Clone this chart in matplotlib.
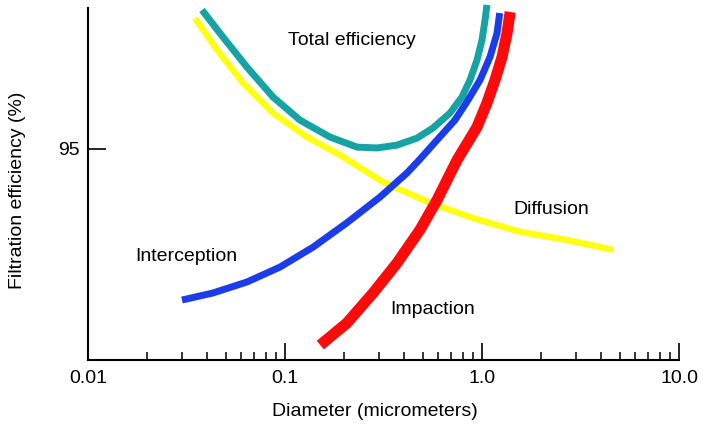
import matplotlib
matplotlib.use("Agg")
import matplotlib.pyplot as plt
from matplotlib.ticker import LogLocator, NullFormatter

plt.rcParams['font.family'] = ['Liberation Sans', 'DejaVu Sans']

# values (diameter in micrometers, efficiency in %)
total_d = [0.0379, 0.0484, 0.0641, 0.0869, 0.119, 0.169, 0.232, 0.293, 0.370, 0.468,
           0.564, 0.688, 0.791, 0.869, 0.943, 1.00, 1.036, 1.06]
total_e = [99.93, 98.97, 97.90, 96.84, 96.02, 95.42, 95.06, 95.03, 95.13, 95.38,
           95.74, 96.27, 96.84, 97.44, 98.15, 98.86, 99.57, 100.11]

diff_d = [0.0349, 0.0452, 0.0612, 0.0869, 0.129, 0.190, 0.314, 0.545, 0.900, 1.56, 2.70, 4.62]
diff_e = [99.64, 98.51, 97.34, 96.27, 95.42, 94.78, 93.82, 93.08, 92.54, 92.05, 91.76, 91.41]

inter_d = [0.0300, 0.0431, 0.0641, 0.0943, 0.139, 0.206, 0.304, 0.416, 0.490, 0.591,
           0.729, 0.849, 0.977, 1.098, 1.192, 1.23]
inter_e = [89.63, 89.88, 90.27, 90.80, 91.51, 92.37, 93.29, 94.14, 94.67, 95.31,
           96.02, 96.73, 97.44, 98.26, 99.11, 99.82]

imp_d = [0.151, 0.206, 0.280, 0.370, 0.484, 0.591, 0.747, 0.943, 1.06, 1.164, 1.264, 1.340, 1.39]
imp_e = [88.03, 88.81, 89.88, 90.94, 92.12, 93.18, 94.60, 95.77, 96.63, 97.44, 98.26, 99.11, 99.86]

xticks = [0.01, 0.1, 1.0, 10.0]
xtick_labels = ['0.01', '0.1', '1.0', '10.0']

fig = plt.figure(figsize=(7.26, 4.32), dpi=100)
ax = fig.add_axes([88 / 726, 72 / 432, 591 / 726, 352 / 432])

ax.plot(diff_d, diff_e, color='#FFFF14', lw=4.6, solid_capstyle='butt', clip_on=False, zorder=2)
ax.plot(total_d, total_e, color='#17A3A3', lw=5.0, solid_capstyle='butt', clip_on=False, zorder=3)
ax.plot(inter_d, inter_e, color='#1A3CEB', lw=5.0, solid_capstyle='butt', clip_on=False, zorder=3)
ax.plot(imp_d, imp_e, color='#FF0A0A', lw=8.0, solid_capstyle='butt', clip_on=False, zorder=4)

ax.set_xscale('log')
ax.set_xlim(0.01, 10)
ax.set_ylim(87.5, 100)

ax.set_xticks(xticks)
ax.set_xticklabels(xtick_labels)
ax.xaxis.set_minor_locator(LogLocator(base=10, subs=range(2, 10)))
ax.xaxis.set_minor_formatter(NullFormatter())
ax.set_yticks([95])
ax.set_yticklabels(['95'])

ax.tick_params(axis='x', which='major', direction='in', length=12, width=1.2, pad=7, labelsize=14)
ax.tick_params(axis='x', which='minor', direction='in', length=6, width=1.1)
ax.tick_params(axis='y', which='major', direction='in', length=13, width=1.2, pad=6, labelsize=14)

for side in ['top', 'right']:
    ax.spines[side].set_visible(False)
for side in ['left', 'bottom']:
    ax.spines[side].set_linewidth(1.5)
    ax.spines[side].set_color('black')

# curve labels
ax.text(0.219, 98.86, 'Total efficiency', ha='center', va='center', fontsize=14)
ax.text(2.24, 92.83, 'Diffusion', ha='center', va='center', fontsize=14)
ax.text(0.0314, 91.19, 'Interception', ha='center', va='center', fontsize=14)
ax.text(0.564, 89.28, 'Impaction', ha='center', va='center', fontsize=14)

fig.text(375 / 726, 1 - 411 / 432, 'Diameter (micrometers)', ha='center', va='center', fontsize=14)
fig.text(18 / 726, 1 - 190 / 432, 'Filtration efficiency (%)', ha='center', va='center',
         rotation=90, fontsize=14)

fig.savefig('out.png', dpi=100)
